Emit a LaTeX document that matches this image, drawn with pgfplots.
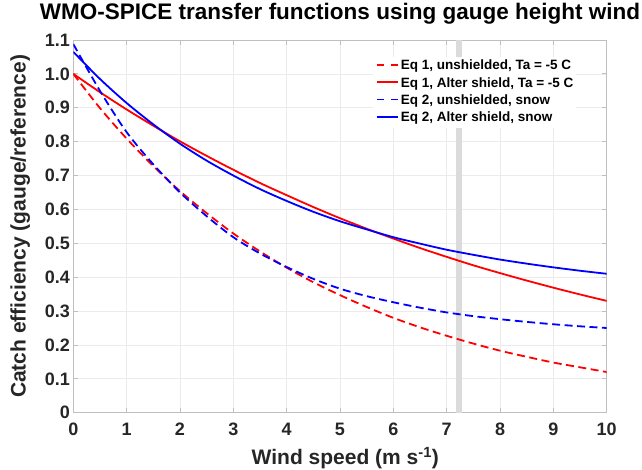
\documentclass[border=0pt]{standalone}
\usepackage{pgfplots}
\usepackage{pgfplotstable}
\pgfplotsset{compat=1.18}
\usepackage{fontspec}
\setmainfont{Liberation Sans}
\definecolor{axgray}{gray}{0.15}
\definecolor{linegray}{gray}{0.75}
\definecolor{gridgray}{gray}{0.92}
\definecolor{bargray}{gray}{0.86}

\pgfplotstableread{
x    ru     ra     bu     ba
0    1.000  1.000  1.088  1.065
0.5  0.899  0.946  0.950  0.985
1    0.809  0.895  0.828  0.914
1.5  0.728  0.847  0.733  0.851
2    0.654  0.801  0.650  0.794
2.5  0.589  0.758  0.580  0.744
3    0.529  0.717  0.518  0.700
3.5  0.476  0.678  0.470  0.660
4    0.428  0.642  0.430  0.625
4.5  0.385  0.607  0.395  0.593
5    0.347  0.574  0.366  0.565
5.5  0.312  0.543  0.344  0.541
6    0.280  0.514  0.326  0.518
6.5  0.252  0.486  0.310  0.499
7    0.227  0.460  0.296  0.481
7.5  0.204  0.435  0.285  0.466
8    0.183  0.412  0.276  0.452
8.5  0.165  0.390  0.268  0.440
9    0.148  0.369  0.261  0.429
9.5  0.134  0.349  0.255  0.419
10   0.120  0.330  0.250  0.410
}\datatable

\begin{document}
\begin{tikzpicture}
\begin{axis}[
  at={(0,0)}, anchor=south west,
  scale only axis, width=533.4bp, height=372.7bp,
  xmin=0, xmax=10, ymin=0, ymax=1.1,
  xtick={0,1,2,3,4,5,6,7,8,9,10},
  xticklabels={0,1,2,3,4,5,6,7,8,9,10},
  ytick={0,0.1,0.2,0.3,0.4,0.5,0.6,0.7,0.8,0.9,1.0,1.1},
  yticklabels={0,0.1,0.2,0.3,0.4,0.5,0.6,0.7,0.8,0.9,1.0,1.1},
  /pgf/number format/assume math mode=true,
  grid=major,
  major grid style={gridgray, line width=0.7bp},
  axis line style={linegray, line width=0.8bp},
  tick style={linegray, line width=0.8bp},
  tick align=inside, major tick length=5bp,
  ticklabel style={font=\bfseries\fontsize{18bp}{20bp}\selectfont, text=axgray},
  xticklabel style={yshift=-6.5bp},
  title={WMO-SPICE transfer functions using gauge height wind},
  title style={at={(axis description cs:0.5,1.0402)}, anchor=base,
    font=\bfseries\fontsize{22.5bp}{26bp}\selectfont, text=black},
  xlabel={Wind speed (m s\textsuperscript{-1})},
  xlabel style={at={(axis description cs:0.51,-0.1403)}, anchor=base,
    font=\bfseries\fontsize{21bp}{25bp}\selectfont, text=axgray},
  ylabel={Catch efficiency (gauge/reference)},
  ylabel style={at={(axis description cs:-0.0892,0.5)}, anchor=base,
    font=\bfseries\fontsize{21bp}{25bp}\selectfont, text=axgray},
  legend style={
    at={(rel axis cs:0.562,0.955)}, anchor=north west,
    draw=none, fill=white, inner sep=3bp,
    font=\bfseries\fontsize{13.5bp}{16bp}\selectfont,
    text=black,
    row sep=4.2bp,
    nodes={inner sep=0pt, text height=10bp, text depth=3bp},
    /tikz/every odd column/.style={column sep=2bp},
  },
  legend cell align=left,
  legend image code/.code={\draw[#1] (0bp,1.3bp) -- (20.7bp,1.3bp);},
]
\addplot[bargray, line width=5.3bp, forget plot] coordinates {(7.23,0) (7.23,1.1)};
\addplot[red, line width=1.8bp, smooth, dash pattern=on 8bp off 4.5bp,
  legend image code/.code={\draw[red, line width=1.8bp, dash pattern=on 6.7bp off 7.3bp] (0bp,1.3bp) -- (20.7bp,1.3bp);}] table[x=x, y=ru] {\datatable};
\addlegendentry{Eq 1, unshielded, Ta = -5 C}
\addplot[red, line width=1.8bp, smooth] table[x=x, y=ra] {\datatable};
\addlegendentry{Eq 1, Alter shield, Ta = -5 C}
\addplot[blue, line width=1.8bp, smooth, dash pattern=on 8bp off 4.5bp,
  legend image code/.code={\draw[blue, line width=1.8bp, dash pattern=on 6.7bp off 7.3bp] (0bp,1.3bp) -- (20.7bp,1.3bp);}] table[x=x, y=bu] {\datatable};
\addlegendentry{Eq 2, unshielded, snow}
\addplot[blue, line width=1.8bp, smooth] table[x=x, y=ba] {\datatable};
\addlegendentry{Eq 2, Alter shield, snow}
\end{axis}
\pgfresetboundingbox
\useasboundingbox (-73.3bp,-57.3bp) rectangle (568.7bp,412.7bp);
\end{tikzpicture}
\end{document}
